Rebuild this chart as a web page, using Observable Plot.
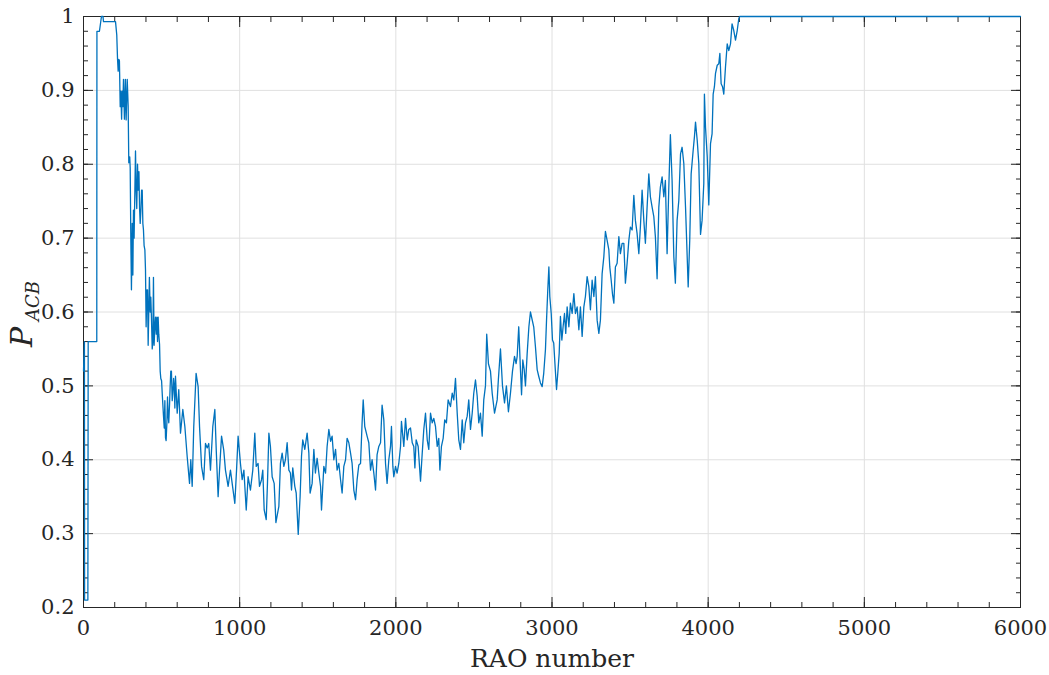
<!DOCTYPE html>
<html><head><meta charset="utf-8">
<script src="https://cdn.jsdelivr.net/npm/d3@7"></script>
<script src="https://cdn.jsdelivr.net/npm/@observablehq/plot@0.6"></script>
<style>body{margin:0;background:#fff}</style>
</head><body><div id="chart"></div>
<script>
const rao = [0,6,7,28,30,85,86,102,115,125,128,205,213,218,222,226,230,235,239,244,248,252,256,262,268,273,280,286,290,296,299,303,307,312,316,320,324,333,337,341,346,350,355,359,363,367,372,376,380,384,388,393,397,401,406,410,414,418,422,427,431,435,440,444,448,452,457,461,466,470,474,478,482,487,491,495,500,504,508,512,517,521,525,529,534,538,542,546,551,555,559,563,568,572,577,581,585,589,600,610,621,636,649,664,679,687,696,706,721,734,743,756,770,781,792,802,813,828,841,850,862,871,884,898,909,926,941,952,969,980,990,1005,1016,1027,1042,1054,1069,1084,1097,1106,1118,1127,1140,1148,1157,1170,1178,1187,1197,1208,1221,1232,1251,1261,1272,1283,1293,1304,1315,1325,1332,1340,1353,1362,1375,1387,1396,1404,1417,1432,1443,1451,1464,1475,1485,1496,1507,1518,1524,1539,1550,1560,1571,1582,1592,1603,1614,1624,1635,1646,1656,1667,1678,1688,1699,1710,1720,1731,1742,1752,1763,1774,1784,1791,1801,1816,1827,1838,1848,1859,1870,1880,1891,1902,1912,1923,1934,1944,1955,1966,1972,1981,1987,1998,2008,2019,2030,2036,2051,2062,2073,2083,2094,2105,2115,2122,2130,2143,2158,2169,2179,2190,2201,2211,2222,2233,2243,2254,2265,2275,2282,2292,2303,2313,2324,2335,2350,2361,2371,2382,2393,2403,2414,2425,2435,2446,2457,2467,2478,2489,2499,2510,2521,2531,2542,2553,2563,2574,2582,2593,2606,2617,2632,2649,2657,2670,2683,2696,2708,2721,2734,2747,2760,2770,2777,2787,2798,2805,2813,2822,2830,2841,2852,2862,2883,2894,2905,2915,2926,2937,2947,2958,2965,2973,2980,2986,2995,3003,3011,3020,3029,3037,3046,3054,3063,3071,3080,3088,3097,3108,3118,3129,3140,3150,3161,3172,3182,3193,3204,3214,3225,3236,3246,3257,3268,3278,3289,3300,3310,3321,3332,3342,3353,3364,3370,3379,3387,3396,3406,3417,3428,3438,3449,3460,3470,3481,3492,3502,3513,3524,3534,3545,3556,3566,3577,3588,3598,3609,3620,3630,3641,3652,3662,3673,3684,3694,3705,3716,3726,3737,3748,3758,3769,3780,3790,3801,3812,3823,3833,3844,3855,3865,3872,3882,3891,3904,3912,3919,3930,3940,3951,3961,3972,3976,3983,3994,4004,4015,4025,4032,4040,4047,4058,4068,4075,4083,4092,4100,4111,4122,4132,4143,4153,4164,4175,4186,4196,4202,6000];
const pacb = [0.52,0.56,0.21,0.21,0.56,0.56,0.98,0.98,1.0,1.0,0.993,0.993,0.975,0.942,0.926,0.942,0.94,0.878,0.899,0.861,0.899,0.878,0.915,0.861,0.915,0.86,0.915,0.878,0.802,0.81,0.795,0.70,0.63,0.72,0.65,0.738,0.70,0.818,0.765,0.74,0.80,0.765,0.79,0.74,0.72,0.735,0.765,0.765,0.72,0.711,0.69,0.684,0.657,0.58,0.63,0.63,0.555,0.60,0.647,0.60,0.62,0.593,0.55,0.56,0.647,0.555,0.58,0.593,0.57,0.593,0.56,0.593,0.57,0.556,0.52,0.51,0.507,0.49,0.475,0.46,0.443,0.48,0.43,0.426,0.45,0.485,0.46,0.45,0.475,0.50,0.52,0.52,0.48,0.49,0.51,0.50,0.47,0.513,0.463,0.495,0.436,0.468,0.445,0.404,0.368,0.40,0.364,0.445,0.517,0.499,0.445,0.391,0.373,0.422,0.416,0.422,0.386,0.445,0.468,0.413,0.35,0.386,0.432,0.413,0.386,0.364,0.386,0.368,0.341,0.386,0.432,0.395,0.373,0.386,0.332,0.377,0.359,0.386,0.436,0.391,0.395,0.364,0.373,0.386,0.332,0.319,0.368,0.436,0.418,0.377,0.368,0.315,0.337,0.395,0.409,0.391,0.40,0.423,0.386,0.382,0.359,0.389,0.364,0.355,0.299,0.35,0.405,0.427,0.414,0.436,0.409,0.355,0.368,0.414,0.382,0.402,0.382,0.364,0.332,0.391,0.382,0.418,0.441,0.425,0.432,0.40,0.414,0.386,0.395,0.373,0.355,0.391,0.40,0.429,0.423,0.409,0.395,0.359,0.346,0.373,0.393,0.395,0.45,0.481,0.445,0.432,0.423,0.386,0.40,0.382,0.359,0.407,0.418,0.423,0.474,0.454,0.395,0.368,0.40,0.418,0.445,0.391,0.377,0.391,0.382,0.395,0.418,0.452,0.418,0.456,0.427,0.441,0.443,0.423,0.418,0.389,0.427,0.418,0.371,0.409,0.441,0.463,0.427,0.414,0.463,0.45,0.456,0.445,0.418,0.429,0.386,0.418,0.429,0.454,0.45,0.481,0.472,0.49,0.481,0.51,0.463,0.427,0.414,0.454,0.423,0.45,0.459,0.481,0.441,0.463,0.49,0.508,0.486,0.45,0.463,0.432,0.481,0.50,0.57,0.53,0.52,0.49,0.463,0.481,0.51,0.55,0.50,0.477,0.50,0.465,0.49,0.52,0.54,0.53,0.54,0.58,0.522,0.488,0.535,0.522,0.50,0.544,0.58,0.60,0.58,0.553,0.522,0.513,0.504,0.499,0.517,0.549,0.589,0.63,0.661,0.621,0.598,0.562,0.558,0.526,0.495,0.517,0.544,0.594,0.562,0.58,0.598,0.571,0.607,0.58,0.612,0.598,0.625,0.598,0.607,0.576,0.607,0.567,0.607,0.621,0.648,0.634,0.603,0.643,0.621,0.648,0.589,0.571,0.589,0.652,0.675,0.709,0.697,0.684,0.661,0.643,0.625,0.612,0.661,0.666,0.702,0.679,0.693,0.693,0.639,0.666,0.697,0.715,0.711,0.758,0.724,0.706,0.679,0.715,0.765,0.724,0.693,0.742,0.787,0.756,0.742,0.729,0.702,0.645,0.742,0.769,0.783,0.756,0.778,0.679,0.769,0.84,0.778,0.675,0.639,0.724,0.751,0.814,0.823,0.801,0.742,0.679,0.634,0.697,0.787,0.819,0.837,0.857,0.832,0.801,0.705,0.724,0.774,0.895,0.85,0.81,0.745,0.828,0.841,0.895,0.905,0.923,0.934,0.936,0.95,0.909,0.905,0.895,0.932,0.963,0.954,0.963,0.99,0.981,0.968,0.981,0.997,1.0,1.0];

const xTicks = [0, 1000, 2000, 3000, 4000, 5000, 6000];
const yTicks = [0.2, 0.3, 0.4, 0.5, 0.6, 0.7, 0.8, 0.9, 1];
const xMinor = d3.range(0, 6001, 200);
const yMinor = d3.range(20, 101, 2).map(v => v / 100);
const xLabel = "RAO number";
const yLabelMain = "P";
const yLabelSub = "ACB";

const data = rao.map((x, i) => ({x, y: pacb[i]}));
const font = "DejaVu Serif";
const axisColor = "#262626";
const gridColor = "#e0e0e0";
const lineColor = "#0072BD";

const chart = Plot.plot({
  width: 1049, height: 675,
  marginLeft: 83, marginRight: 29, marginTop: 16, marginBottom: 68,
  style: {background: "#ffffff", color: axisColor},
  x: {domain: [0, 6000]},
  y: {domain: [0.2, 1]},
  marks: [
    Plot.gridX(xTicks, {stroke: gridColor, strokeOpacity: 1}),
    Plot.gridY(yTicks, {stroke: gridColor, strokeOpacity: 1}),
    Plot.frame({stroke: axisColor}),
    Plot.axisX(xTicks, {anchor: "bottom", tickSize: 0, tickPadding: 13, tickFormat: d => String(d), fontSize: 21, fontFamily: font, fill: axisColor, label: null}),
    Plot.axisY(yTicks, {anchor: "left", tickSize: 0, tickPadding: 9, tickFormat: d => String(d), fontSize: 21, fontFamily: font, fill: axisColor, label: null}),
    Plot.axisX(xTicks, {anchor: "bottom", tickSize: -10, fill: "none", stroke: axisColor, label: null}),
    Plot.axisX(xMinor, {anchor: "bottom", tickSize: -5, fill: "none", stroke: axisColor, label: null}),
    Plot.axisX(xTicks, {anchor: "top", tickSize: -10, fill: "none", stroke: axisColor, label: null}),
    Plot.axisX(xMinor, {anchor: "top", tickSize: -5, fill: "none", stroke: axisColor, label: null}),
    Plot.axisY(yTicks, {anchor: "left", tickSize: -10, fill: "none", stroke: axisColor, label: null}),
    Plot.axisY(yMinor, {anchor: "left", tickSize: -5, fill: "none", stroke: axisColor, label: null}),
    Plot.axisY(yTicks, {anchor: "right", tickSize: -10, fill: "none", stroke: axisColor, label: null}),
    Plot.axisY(yMinor, {anchor: "right", tickSize: -5, fill: "none", stroke: axisColor, label: null}),
    Plot.line(data, {x: "x", y: "y", stroke: lineColor, strokeWidth: 1.3}),
    Plot.text([xLabel], {frameAnchor: "bottom", dy: 59, fontSize: 25, fontFamily: font, fill: axisColor, text: d => d}),
    Plot.text([yLabelMain], {frameAnchor: "left", textAnchor: "start", dx: -61, dy: 35, rotate: -90, fontSize: 30, fontFamily: font, fontStyle: "italic", fill: axisColor, text: d => d}),
    Plot.text([yLabelSub], {frameAnchor: "left", textAnchor: "start", dx: -50, dy: 9, rotate: -90, fontSize: 18, fontFamily: font, fontStyle: "italic", fill: axisColor, text: d => d})
  ]
});
document.getElementById("chart").appendChild(chart);
</script>
</body></html>
